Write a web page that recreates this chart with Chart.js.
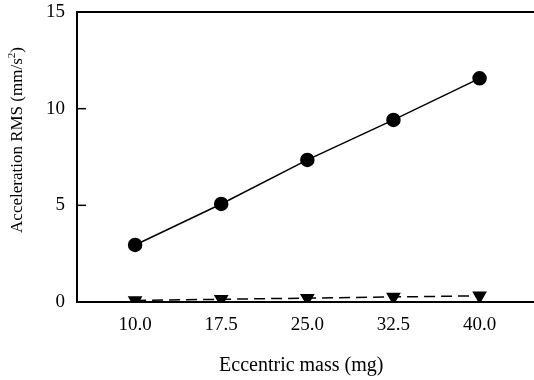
<!DOCTYPE html>
<html lang="en">
<head>
    <meta charset="UTF-8">
    <title>Acceleration RMS vs eccentric mass</title>
    <script src="https://cdn.jsdelivr.net/npm/chart.js"></script>
    <style>
        html, body { margin: 0; padding: 0; background: #fff; }
        #wrap { position: relative; width: 534px; height: 380px; }
    </style>
</head>
<body>
    <div id="wrap"><canvas id="accChart"></canvas></div>

    <script>
        // data
        const massLabels = [10.0, 17.5, 25.0, 32.5, 40.0];
        const rmsCircle = [2.95, 5.07, 7.35, 9.42, 11.57];
        const rmsTriangle = [0.08, 0.14, 0.2, 0.26, 0.32];
        const yTicks = [0, 5, 10, 15];

        const serif = "'Liberation Serif', 'Times New Roman', serif";

        // frame (top/left/bottom), inward y ticks and the y title with superscript
        const framePlugin = {
            id: 'frame',
            afterDraw(chart) {
                const { ctx, chartArea: a, scales } = chart;
                ctx.save();
                ctx.strokeStyle = '#000';
                ctx.lineWidth = 2;
                ctx.beginPath();
                ctx.moveTo(chart.width, a.top);
                ctx.lineTo(a.left, a.top);
                ctx.lineTo(a.left, a.bottom);
                ctx.lineTo(chart.width, a.bottom);
                ctx.stroke();

                ctx.lineWidth = 1.5;
                yTicks.forEach(v => {
                    const y = scales.y.getPixelForValue(v);
                    ctx.beginPath();
                    ctx.moveTo(a.left, y);
                    ctx.lineTo(a.left + 9, y);
                    ctx.stroke();
                });

                // y axis title
                ctx.translate(18, 140);
                ctx.rotate(-Math.PI / 2);
                ctx.fillStyle = '#000';
                ctx.textBaseline = 'middle';
                ctx.font = '17px ' + serif;
                const main = 'Acceleration RMS (mm/s';
                const wMain = ctx.measureText(main).width;
                ctx.font = '11px ' + serif;
                const wSup = ctx.measureText('2').width;
                ctx.font = '17px ' + serif;
                const wEnd = ctx.measureText(')').width;
                let x = -(wMain + wSup + wEnd) / 2;
                ctx.textAlign = 'left';
                ctx.fillText(main, x, 0);
                x += wMain;
                ctx.font = '11px ' + serif;
                ctx.fillText('2', x, -6);
                x += wSup;
                ctx.font = '17px ' + serif;
                ctx.fillText(')', x, 0);
                ctx.restore();
            }
        };

        new Chart(document.getElementById('accChart'), {
            type: 'line',
            data: {
                datasets: [{
                    label: 'circle',
                    data: massLabels.map((m, i) => ({ x: m, y: rmsCircle[i] })),
                    borderColor: '#000',
                    backgroundColor: '#000',
                    borderWidth: 1.5,
                    pointStyle: 'circle',
                    pointRadius: 6.5,
                    pointHoverRadius: 6.5,
                    tension: 0
                }, {
                    label: 'triangle',
                    data: massLabels.map((m, i) => ({ x: m, y: rmsTriangle[i] })),
                    borderColor: '#000',
                    backgroundColor: '#000',
                    borderWidth: 1.5,
                    borderDash: [11, 6],
                    pointStyle: 'triangle',
                    rotation: 180,
                    pointRadius: 7,
                    pointHoverRadius: 7,
                    tension: 0
                }]
            },
            options: {
                responsive: true,
                maintainAspectRatio: false,
                animation: false,
                layout: { padding: { top: 12, right: 0, left: 0, bottom: 0 } },
                plugins: {
                    legend: { display: false },
                    tooltip: { enabled: false }
                },
                scales: {
                    x: {
                        type: 'linear',
                        min: 4.94,
                        max: 44.0,
                        afterBuildTicks: scale => {
                            scale.ticks = massLabels.map(v => ({ value: v }));
                        },
                        afterFit: scale => { scale.height = 78; },
                        grid: { display: false, drawTicks: false },
                        border: { display: false },
                        ticks: {
                            color: '#000',
                            padding: 12,
                            maxRotation: 0,
                            autoSkip: false,
                            font: { family: serif, size: 19 },
                            callback: v => Number(v).toFixed(1)
                        },
                        title: {
                            display: true,
                            text: 'Eccentric mass (mg)',
                            color: '#000',
                            font: { family: serif, size: 20 },
                            padding: { top: 0, bottom: 2 }
                        }
                    },
                    y: {
                        min: 0,
                        max: 15,
                        afterBuildTicks: scale => {
                            scale.ticks = yTicks.map(v => ({ value: v }));
                        },
                        afterFit: scale => {
                            scale.width = 77;
                            scale.paddingTop = 0;
                            scale.paddingBottom = 0;
                        },
                        grid: { display: false, drawTicks: false },
                        border: { display: false },
                        ticks: {
                            color: '#000',
                            padding: 12,
                            font: { family: serif, size: 19 }
                        }
                    }
                }
            },
            plugins: [framePlugin]
        });
    </script>
</body>
</html>
